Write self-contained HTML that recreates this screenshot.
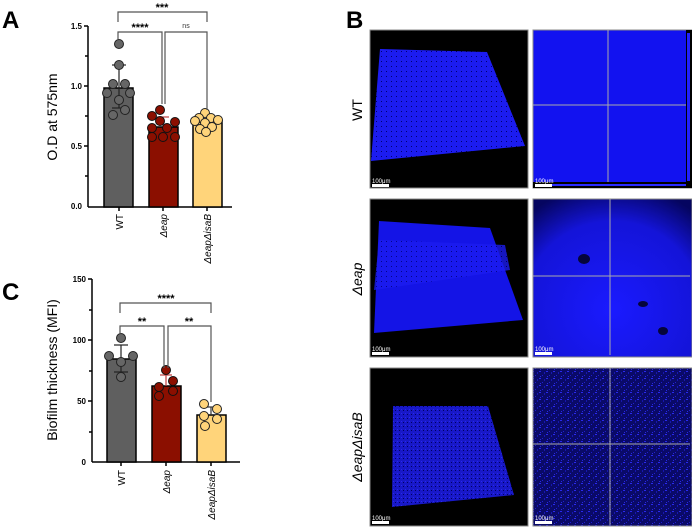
<!DOCTYPE html><html><head><style>body{margin:0;background:#fff}svg{display:block;font-family:"Liberation Sans",sans-serif}</style></head><body>
<svg width="692" height="531" viewBox="0 0 692 531">
<defs>
<radialGradient id="g2" cx="0.5" cy="0.7" r="0.8"><stop offset="0" stop-color="#1a1aff"/><stop offset="0.7" stop-color="#1414d8"/><stop offset="1" stop-color="#050560"/></radialGradient>
<pattern id="sp" width="7" height="7" patternUnits="userSpaceOnUse"><rect width="7" height="7" fill="#0a0a68"/><rect x="0" y="0" width="2" height="1" fill="#2a2aee"/><rect x="3" y="4" width="1" height="1" fill="#2020d0"/><rect x="5" y="1" width="1" height="2" fill="#1818b0"/><rect x="1" y="5" width="1" height="1" fill="#2a2ae0"/></pattern>
<pattern id="sp2" width="5" height="5" patternUnits="userSpaceOnUse"><rect width="5" height="5" fill="#1c1cf0"/><rect x="1" y="1" width="1" height="1" fill="#000070"/></pattern>
<pattern id="sp3" width="4" height="4" patternUnits="userSpaceOnUse"><rect width="4" height="4" fill="#1818c8"/><rect x="1" y="1" width="1" height="1" fill="#2828f0"/><rect x="3" y="2" width="1" height="1" fill="#000060"/></pattern>
</defs>
<!-- Panel A -->
<text x="2" y="28" font-size="24" font-weight="bold">A</text>
<g stroke="#000" stroke-width="1.5" fill="none"><line x1="88" y1="26" x2="88" y2="207"/><line x1="88" y1="207" x2="232" y2="207"/>
<line x1="84" y1="26" x2="88" y2="26"/><line x1="85" y1="56" x2="88" y2="56"/><line x1="84" y1="86" x2="88" y2="86"/><line x1="85" y1="116" x2="88" y2="116"/><line x1="84" y1="146" x2="88" y2="146"/><line x1="85" y1="176" x2="88" y2="176"/>
<line x1="119" y1="207" x2="119" y2="211"/><line x1="163" y1="207" x2="163" y2="211"/><line x1="207" y1="207" x2="207" y2="211"/></g>
<g font-size="8" font-weight="bold" text-anchor="end"><text x="82" y="29">1.5</text><text x="82" y="89">1.0</text><text x="82" y="149">0.5</text><text x="82" y="209">0.0</text></g>
<text transform="translate(57,117) rotate(-90)" font-size="14" text-anchor="middle">O.D at 575nm</text>
<rect x="104" y="88" width="29" height="119" fill="#5f5f5f" stroke="#000" stroke-width="1.5"/>
<rect x="149" y="127" width="29" height="80" fill="#8b0f00" stroke="#000" stroke-width="1.5"/>
<rect x="193" y="121" width="29" height="86" fill="#ffd47a" stroke="#000" stroke-width="1.5"/>
<g stroke="#222" stroke-width="1.2"><line x1="119" y1="65" x2="119" y2="108"/><line x1="112" y1="65" x2="126" y2="65"/><line x1="112" y1="108" x2="126" y2="108"/></g>
<g stroke="#c04040" stroke-width="1.2"><line x1="163" y1="117" x2="163" y2="127"/><line x1="157" y1="117" x2="169" y2="117"/></g>
<g stroke="#333" stroke-width="1.2"><line x1="207" y1="116" x2="207" y2="126"/><line x1="201" y1="116" x2="213" y2="116"/></g>
<g fill="#666" stroke="#222" stroke-width="1"><circle cx="119" cy="44" r="4.5"/><circle cx="119" cy="65" r="4.5"/><circle cx="113" cy="84" r="4.5"/><circle cx="125" cy="84" r="4.5"/><circle cx="107" cy="93" r="4.5"/><circle cx="130" cy="93" r="4.5"/><circle cx="119" cy="100" r="4.5"/><circle cx="113" cy="115" r="4.5"/><circle cx="125" cy="110" r="4.5"/></g>
<g fill="#8b0f00" stroke="#111" stroke-width="1"><circle cx="160" cy="110" r="4.5"/><circle cx="152" cy="116" r="4.5"/><circle cx="160" cy="121" r="4.5"/><circle cx="175" cy="122" r="4.5"/><circle cx="152" cy="128" r="4.5"/><circle cx="167" cy="128" r="4.5"/><circle cx="152" cy="137" r="4.5"/><circle cx="163" cy="137" r="4.5"/><circle cx="175" cy="137" r="4.5"/></g>
<g fill="#ffd47a" stroke="#222" stroke-width="1"><circle cx="205" cy="113" r="4.5"/><circle cx="199" cy="118" r="4.5"/><circle cx="211" cy="118" r="4.5"/><circle cx="218" cy="120" r="4.5"/><circle cx="195" cy="121" r="4.5"/><circle cx="205" cy="123" r="4.5"/><circle cx="212" cy="127" r="4.5"/><circle cx="200" cy="129" r="4.5"/><circle cx="206" cy="132" r="4.5"/></g>
<g stroke="#555" stroke-width="1.2" fill="none"><polyline points="118,22 118,12 207,12 207,22"/><polyline points="118,39 118,32 162,32 162,104"/><polyline points="165,104 165,32 207,32 207,110"/></g>
<g font-size="11" font-weight="bold" text-anchor="middle"><text x="162" y="11">***</text><text x="140" y="31">****</text></g>
<text x="186" y="28" font-size="7" text-anchor="middle" fill="#333">ns</text>
<g font-size="10" text-anchor="end"><text transform="translate(123,214) rotate(-90)">WT</text><text transform="translate(167,214) rotate(-90)" font-style="italic">Δeap</text><text transform="translate(211,214) rotate(-90)" font-style="italic">ΔeapΔisaB</text></g>
<!-- Panel C -->
<text x="2" y="300" font-size="24" font-weight="bold">C</text>
<g stroke="#000" stroke-width="1.5" fill="none"><line x1="92" y1="279" x2="92" y2="462"/><line x1="92" y1="462" x2="240" y2="462"/>
<line x1="88" y1="279" x2="92" y2="279"/><line x1="89" y1="310" x2="92" y2="310"/><line x1="88" y1="340" x2="92" y2="340"/><line x1="89" y1="371" x2="92" y2="371"/><line x1="88" y1="401" x2="92" y2="401"/><line x1="89" y1="432" x2="92" y2="432"/>
<line x1="121" y1="462" x2="121" y2="466"/><line x1="166" y1="462" x2="166" y2="466"/><line x1="211" y1="462" x2="211" y2="466"/></g>
<g font-size="8" font-weight="bold" text-anchor="end"><text x="86" y="282">150</text><text x="86" y="343">100</text><text x="86" y="404">50</text><text x="86" y="465">0</text></g>
<text transform="translate(57,370) rotate(-90)" font-size="14" text-anchor="middle">Biofilm thickness (MFI)</text>
<rect x="107" y="359" width="29" height="103" fill="#5f5f5f" stroke="#000" stroke-width="1.5"/>
<rect x="152" y="386" width="29" height="76" fill="#8b0f00" stroke="#000" stroke-width="1.5"/>
<rect x="197" y="415" width="29" height="47" fill="#ffd47a" stroke="#000" stroke-width="1.5"/>
<g stroke="#222" stroke-width="1.2"><line x1="121" y1="345" x2="121" y2="372"/><line x1="114" y1="345" x2="128" y2="345"/><line x1="114" y1="372" x2="128" y2="372"/></g>
<g stroke="#c04040" stroke-width="1.2"><line x1="166" y1="375" x2="166" y2="386"/><line x1="160" y1="375" x2="172" y2="375"/></g>
<g stroke="#333" stroke-width="1.2"><line x1="211" y1="407" x2="211" y2="415"/><line x1="205" y1="407" x2="217" y2="407"/></g>
<g fill="#666" stroke="#222" stroke-width="1"><circle cx="121" cy="338" r="4.5"/><circle cx="109" cy="356" r="4.5"/><circle cx="133" cy="356" r="4.5"/><circle cx="121" cy="362" r="4.5"/><circle cx="121" cy="377" r="4.5"/></g>
<g fill="#8b0f00" stroke="#111" stroke-width="1"><circle cx="166" cy="370" r="4.5"/><circle cx="173" cy="381" r="4.5"/><circle cx="159" cy="387" r="4.5"/><circle cx="173" cy="391" r="4.5"/><circle cx="159" cy="396" r="4.5"/></g>
<g fill="#ffd47a" stroke="#222" stroke-width="1"><circle cx="204" cy="404" r="4.5"/><circle cx="217" cy="409" r="4.5"/><circle cx="204" cy="416" r="4.5"/><circle cx="217" cy="419" r="4.5"/><circle cx="205" cy="426" r="4.5"/></g>
<g stroke="#555" stroke-width="1.2" fill="none"><polyline points="120,313 120,303 211,303 211,313"/><polyline points="120,334 120,326 164,326 164,368"/><polyline points="168,368 168,326 211,326 211,402"/></g>
<g font-size="11" font-weight="bold" text-anchor="middle"><text x="166" y="302">****</text><text x="142" y="325">**</text><text x="189" y="325">**</text></g>
<g font-size="10" text-anchor="end"><text transform="translate(125,470) rotate(-90)">WT</text><text transform="translate(170,470) rotate(-90)" font-style="italic">Δeap</text><text transform="translate(215,470) rotate(-90)" font-style="italic">ΔeapΔisaB</text></g>
<!-- Panel B -->
<text x="346" y="28" font-size="24" font-weight="bold">B</text>
<g font-size="14" text-anchor="middle"><text transform="translate(362,110) rotate(-90)">WT</text><text transform="translate(362,279) rotate(-90)" font-style="italic">Δeap</text><text transform="translate(362,447) rotate(-90)" font-style="italic">ΔeapΔisaB</text></g>
<g stroke="#888" stroke-width="1">
<rect x="370" y="30" width="158" height="158" fill="#000"/>
<rect x="370" y="199" width="158" height="158" fill="#000"/>
<rect x="370" y="368" width="158" height="158" fill="#000"/>
<rect x="533" y="30" width="159" height="158" fill="#1212f0"/>
<rect x="533" y="199" width="159" height="158" fill="url(#g2)"/>
<rect x="533" y="368" width="159" height="158" fill="url(#sp)"/>
</g>
<polygon points="380,49 487,52 525,146 371,161" fill="url(#sp2)"/>
<polygon points="379,221 490,228 523,320 374,333" fill="#1414e6"/>
<polygon points="379,240 505,245 510,270 374,290" fill="url(#sp2)" opacity="0.8"/>
<polygon points="393,406 488,406 514,495 392,507" fill="url(#sp3)"/>
<ellipse cx="584" cy="259" rx="6" ry="5" fill="#05053a"/><ellipse cx="643" cy="304" rx="5" ry="3" fill="#05053a"/><ellipse cx="663" cy="331" rx="5" ry="4" fill="#05053a"/>
<g stroke="#aaa" stroke-width="1"><line x1="608" y1="30" x2="608" y2="185"/><line x1="533" y1="105" x2="690" y2="105"/><line x1="610" y1="199" x2="610" y2="355"/><line x1="533" y1="276" x2="690" y2="276"/><line x1="610" y1="368" x2="610" y2="525"/><line x1="533" y1="444" x2="690" y2="444"/></g>
<rect x="533" y="182" width="159" height="6" fill="#000"/><rect x="536" y="184" width="150" height="2" fill="#2a2aff"/>
<rect x="686" y="30" width="6" height="158" fill="#000"/><rect x="687" y="33" width="3" height="148" fill="#2020ff"/>
<g fill="#fff" font-size="6"><text x="372" y="183">100μm</text><text x="535" y="183">100μm</text><text x="372" y="351">100μm</text><text x="535" y="351">100μm</text><text x="372" y="520">100μm</text><text x="535" y="520">100μm</text></g>
<g fill="#fff"><rect x="372" y="184" width="17" height="3"/><rect x="535" y="184" width="17" height="3"/><rect x="372" y="352" width="17" height="3"/><rect x="535" y="352" width="17" height="3"/><rect x="372" y="521" width="17" height="3"/><rect x="535" y="521" width="17" height="3"/></g>
</svg></body></html>
